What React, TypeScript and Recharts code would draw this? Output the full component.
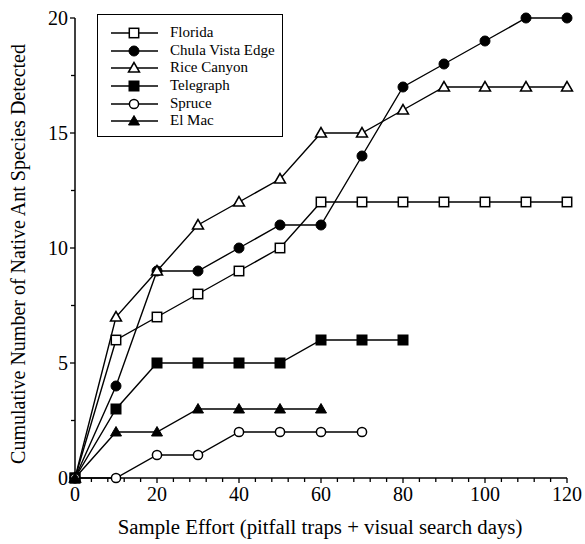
import React from 'react';
import { LineChart, Line, XAxis, YAxis, Legend } from 'recharts';

// sample effort (days) at which species counts were taken
const effort = [0, 10, 20, 30, 40, 50, 60, 70, 80, 90, 100, 110, 120];

// cumulative native ant species per site
const florida = [0, 6, 7, 8, 9, 10, 12, 12, 12, 12, 12, 12, 12];
const chulaVistaEdge = [0, 4, 9, 9, 10, 11, 11, 14, 17, 18, 19, 20, 20];
const riceCanyon = [0, 7, 9, 11, 12, 13, 15, 15, 16, 17, 17, 17, 17];
const telegraph = [0, 3, 5, 5, 5, 5, 6, 6, 6];
const spruce = [0, 0, 1, 1, 2, 2, 2, 2];
const elMac = [0, 2, 2, 3, 3, 3, 3];

const xTicks = [0, 4, 8, 12, 16, 20, 24, 28, 32, 36, 40, 44, 48, 52, 56, 60, 64, 68, 72, 76, 80, 84, 88, 92, 96, 100, 104, 108, 112, 116, 120];
const yTicks = [0, 2.5, 5, 7.5, 10, 12.5, 15, 17.5, 20];

const FONT = 'Liberation Serif';

type Kind = 'openSquare' | 'filledCircle' | 'openTriangle' | 'filledSquare' | 'openCircle' | 'filledTriangle';

const series: { name: string; values: number[]; kind: Kind }[] = [
  { name: 'Florida', values: florida, kind: 'openSquare' },
  { name: 'Chula Vista Edge', values: chulaVistaEdge, kind: 'filledCircle' },
  { name: 'Rice Canyon', values: riceCanyon, kind: 'openTriangle' },
  { name: 'Telegraph', values: telegraph, kind: 'filledSquare' },
  { name: 'Spruce', values: spruce, kind: 'openCircle' },
  { name: 'El Mac', values: elMac, kind: 'filledTriangle' },
];

const marker = (kind: Kind, cx: number, cy: number, key?: string | number) => {
  const sw = 1.5;
  switch (kind) {
    case 'openSquare':
      return <rect key={key} x={cx - 4.7} y={cy - 4.7} width={9.4} height={9.4} fill="#fff" stroke="#000" strokeWidth={sw} />;
    case 'filledSquare':
      return <rect key={key} x={cx - 5} y={cy - 5} width={10} height={10} fill="#000" stroke="#000" strokeWidth={1} />;
    case 'filledCircle':
      return <circle key={key} cx={cx} cy={cy} r={5} fill="#000" stroke="#000" strokeWidth={1} />;
    case 'openCircle':
      return <circle key={key} cx={cx} cy={cy} r={4.6} fill="#fff" stroke="#000" strokeWidth={sw} />;
    case 'openTriangle':
      return <polygon key={key} points={`${cx},${cy - 5.5} ${cx - 5.5},${cy + 4} ${cx + 5.5},${cy + 4}`} fill="#fff" stroke="#000" strokeWidth={sw} />;
    case 'filledTriangle':
      return <polygon key={key} points={`${cx},${cy - 5.5} ${cx - 5.5},${cy + 4} ${cx + 5.5},${cy + 4}`} fill="#000" stroke="#000" strokeWidth={1} />;
  }
};

const XTick = (props: any) => {
  const { x, y, payload } = props;
  const major = payload.value % 20 === 0;
  return (
    <g>
      <line x1={x} y1={y} x2={x} y2={y + (major ? 5 : 4)} stroke="#000" strokeWidth={1.3} />
      {major && (
        <text x={x} y={y + 23} textAnchor="middle" fontFamily={FONT} fontSize={20} fill="#000">
          {payload.value}
        </text>
      )}
    </g>
  );
};

const YTick = (props: any) => {
  const { x, y, payload } = props;
  const major = payload.value % 5 === 0;
  return (
    <g>
      <line x1={x} y1={y} x2={x - (major ? 5 : 4)} y2={y} stroke="#000" strokeWidth={1.3} />
      {major && (
        <text x={x - 7} y={y + 6.5} textAnchor="end" fontFamily={FONT} fontSize={20} fill="#000">
          {payload.value}
        </text>
      )}
    </g>
  );
};

const LegendBox = () => (
  <div
    style={{
      border: '1.5px solid #000',
      background: '#fff',
      boxSizing: 'border-box',
      width: 186,
      height: 123,
      paddingTop: 9,
      fontFamily: FONT,
      fontSize: 15,
      color: '#000',
    }}
  >
    {series.map((s) => (
      <div key={s.name} style={{ display: 'flex', alignItems: 'center', height: 17.7 }}>
        <svg width={60} height={14} style={{ marginLeft: 12, display: 'block' }}>
          <line x1={1} y1={7} x2={48} y2={7} stroke="#000" strokeWidth={1.5} />
          {marker(s.kind, 24, 7)}
        </svg>
        <span style={{ lineHeight: '17.7px' }}>{s.name}</span>
      </div>
    ))}
  </div>
);

const yTitle = () => (
  <text
    x={18}
    y={254}
    transform="rotate(-90 18 254)"
    textAnchor="middle"
    dominantBaseline="central"
    fontFamily={FONT}
    fontSize={20}
    fill="#000"
  >
    Cumulative Number of Native Ant Species Detected
  </text>
);

const xTitle = () => (
  <text x={320} y={534} textAnchor="middle" fontFamily={FONT} fontSize={20.8} fill="#000">
    Sample Effort (pitfall traps + visual search days)
  </text>
);

export default function App() {
  return (
    <div style={{ position: 'absolute', left: 0, top: 0, width: 585, height: 544, background: '#fff' }}>
      <LineChart width={585} height={544} margin={{ top: 18, right: 18, left: 0, bottom: 0 }}>
        <XAxis
          type="number"
          dataKey="x"
          domain={[0, 120]}
          ticks={xTicks}
          interval={0}
          height={66}
          tickSize={0}
          tickMargin={0}
          tickLine={false}
          tick={<XTick />}
          axisLine={{ stroke: '#000', strokeWidth: 1.5 }}
          allowDuplicatedCategory={false}
          label={{ content: xTitle }}
        />
        <YAxis
          type="number"
          domain={[0, 20]}
          ticks={yTicks}
          interval={0}
          width={75}
          tickSize={0}
          tickMargin={0}
          tickLine={false}
          tick={<YTick />}
          axisLine={{ stroke: '#000', strokeWidth: 1.5 }}
          label={{ content: yTitle }}
        />
        <Legend
          layout="vertical"
          align="center"
          verticalAlign="middle"
          content={() => <LegendBox />}
          wrapperStyle={{ left: 97, top: 14, width: 186, height: 123 }}
        />
        {series.map((s) => (
          <Line
            key={s.name}
            name={s.name}
            data={s.values.map((v, i) => ({ x: effort[i], y: v }))}
            dataKey="y"
            type="linear"
            stroke="#000"
            strokeWidth={1.4}
            isAnimationActive={false}
            dot={(p: any) => marker(s.kind, p.cx, p.cy, `${s.name}-${p.index}`)}
            activeDot={false}
          />
        ))}
      </LineChart>
    </div>
  );
}
